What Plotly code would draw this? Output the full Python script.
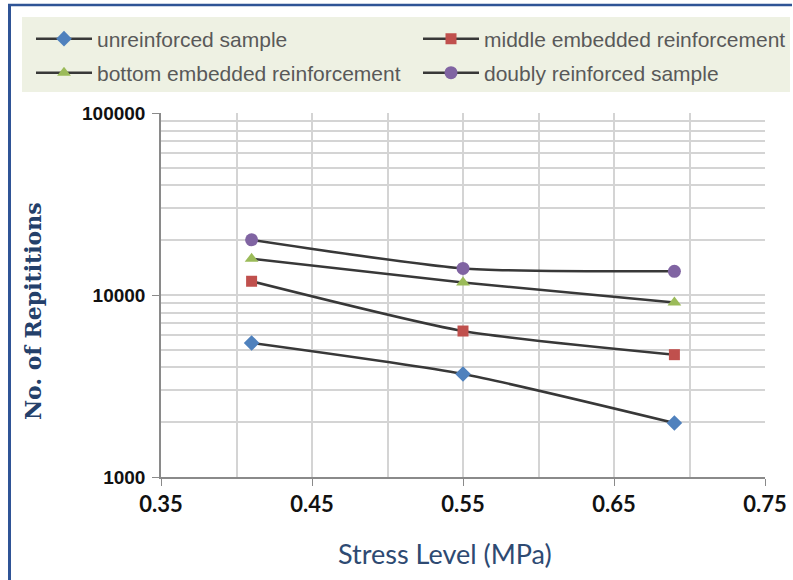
import plotly.graph_objects as go

stress = [0.41, 0.55, 0.69]
unreinforced = [5450, 3680, 1980]
middle = [11900, 6340, 4700]
bottom = [15800, 11700, 9100]
doubly = [20100, 14000, 13500]

y_major = [1000, 10000, 100000]
y_major_labels = ["1000", "10000", "100000"]
y_minor = [m * d for d in (1000, 10000) for m in range(2, 10)]

series = [
    ("unreinforced sample", unreinforced, "diamond", "#4F81BD", 12, "legend"),
    ("middle embedded reinforcement", middle, "square", "#C0504D", 11, "legend2"),
    ("bottom embedded reinforcement", bottom, "triangle-up", "#9BBB59", 12, "legend3"),
    ("doubly reinforced sample", doubly, "circle", "#8064A2", 13, "legend4"),
]

fig = go.Figure()
for name, vals, sym, col, sz, lg in series:
    fig.add_trace(go.Scatter(
        x=stress, y=vals, name=name, mode="lines+markers", legend=lg,
        line=dict(color="#383838", width=2.5, shape="spline", smoothing=0.6),
        marker=dict(symbol=sym, color=col, size=sz, line=dict(width=0)),
    ))

W, H = 793, 580
L, R, T, B = 161, 28, 113, 103
PW, PH = W - L - R, H - T - B


def px(xp):
    return (xp - L) / PW


def py(yp):
    return (H - B - yp) / PH


leg_font = dict(family="Liberation Sans, Arial", size=21, color="#595959")


def leg(xpix, ypix):
    return dict(x=xpix / W, y=1 - ypix / H, xref="container", yref="container",
                xanchor="left", yanchor="middle", bgcolor="rgba(0,0,0,0)",
                font=leg_font, itemwidth=56)


fig.update_layout(
    width=W, height=H,
    margin=dict(l=L, r=R, t=T, b=B, autoexpand=False),
    paper_bgcolor="white", plot_bgcolor="white",
    showlegend=True,
    legend=leg(31, 39),
    legend2=leg(418, 39),
    legend3=leg(31, 73),
    legend4=leg(418, 73),
    xaxis=dict(
        range=[0.35, 0.75], tick0=0.35, dtick=0.1, tickformat=".2f",
        showline=True, linecolor="#8a8a8a", linewidth=1.5,
        ticks="outside", ticklen=7, tickcolor="#8a8a8a",
        showgrid=True, gridcolor="#d4d4d4", gridwidth=1.7,
        minor=dict(dtick=0.05, tick0=0.35, showgrid=True, gridcolor="#d4d4d4", gridwidth=1.7, ticks=""),
        tickfont=dict(family="Lato, Liberation Sans", size=22, color="#111111", weight="bold"),
        zeroline=False,
    ),
    yaxis=dict(
        type="log", range=[3, 5],
        tickmode="array", tickvals=y_major, ticktext=y_major_labels,
        showline=True, linecolor="#8a8a8a", linewidth=1.5,
        ticks="outside", ticklen=7, tickcolor="#8a8a8a", ticklabelstandoff=3,
        showgrid=True, gridcolor="#d4d4d4", gridwidth=1.7,
        minor=dict(tickmode="array", tickvals=y_minor, showgrid=True,
                   gridcolor="#d4d4d4", gridwidth=1.7, ticks=""),
        tickfont=dict(family="Liberation Sans, Arial", size=19, color="#111111", weight="bold"),
        zeroline=False,
    ),
    annotations=[
        dict(text="Stress Level (MPa)", xref="paper", yref="paper", x=px(445), y=py(553),
             showarrow=False, xanchor="center", yanchor="middle",
             font=dict(family="Lato, Open Sans", size=27, color="#2E4A72")),
        dict(text="No. of Repititions", xref="paper", yref="paper", x=px(33), y=py(311),
             showarrow=False, xanchor="center", yanchor="middle", textangle=-90,
             font=dict(family="DejaVu Serif, Liberation Serif", size=22, color="#24406A", weight="bold")),
    ],
    shapes=[
        dict(type="rect", xref="paper", yref="paper", x0=px(22), x1=px(790), y0=py(92), y1=py(17),
             fillcolor="#EEF1E3", line=dict(width=0), layer="below"),
        dict(type="line", xref="paper", yref="paper", x0=px(8), x1=px(792), y0=py(5), y1=py(5),
             line=dict(color="#2F5496", width=2.5)),
        dict(type="line", xref="paper", yref="paper", x0=px(9.5), x1=px(9.5), y0=py(580), y1=py(4),
             line=dict(color="#2F5496", width=3)),
    ],
)

fig.write_html("out.html", config={"displayModeBar": False},
               post_script="document.body.style.margin='0';")
